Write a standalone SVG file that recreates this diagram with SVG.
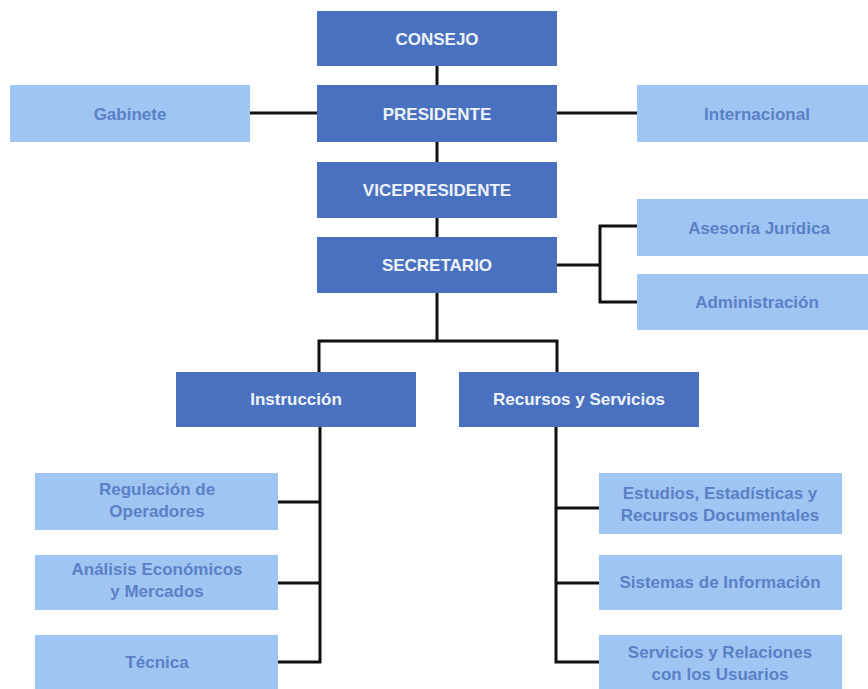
<svg xmlns="http://www.w3.org/2000/svg" width="868" height="689" viewBox="0 0 868 689">
<style>
.dark{fill:#4a71bf}
.light{fill:#9fc6f3}
.tw{font-family:"Liberation Sans",Arial,sans-serif;font-weight:bold;font-size:17px;fill:#eef3fb;text-anchor:middle}
.tb{font-family:"Liberation Sans",Arial,sans-serif;font-weight:bold;font-size:17px;fill:#5a80c6;text-anchor:middle}
.ln{stroke:#111;stroke-width:3;fill:none}
</style>
<rect width="868" height="689" fill="#ffffff"/>
<g id="connectors">
<path class="ln" d="M437 66V85M437 142V162M437 218V237M437 293V341"/>
<path class="ln" d="M250 113H317M557 113H637"/>
<path class="ln" d="M557 265H600M637 226H600V302H637"/>
<path class="ln" d="M319 372V341H557V372"/>
<path class="ln" d="M320 427V662H278M278 502H320M278 583H320"/>
<path class="ln" d="M556 427V662H599M556 508H599M556 583H599"/>
</g>
<g id="consejo"><rect class="dark" x="317" y="11" width="240" height="55"/><text class="tw" x="437" y="45">CONSEJO</text></g>
<g id="presidente"><rect class="dark" x="317" y="85" width="240" height="57"/><text class="tw" x="437" y="120">PRESIDENTE</text></g>
<g id="gabinete"><rect class="light" x="10" y="85" width="240" height="57"/><text class="tb" x="130" y="120">Gabinete</text></g>
<g id="internacional"><rect class="light" x="637" y="85" width="240" height="57"/><text class="tb" x="757" y="120">Internacional</text></g>
<g id="vicepresidente"><rect class="dark" x="317" y="162" width="240" height="56"/><text class="tw" x="437" y="196">VICEPRESIDENTE</text></g>
<g id="secretario"><rect class="dark" x="317" y="237" width="240" height="56"/><text class="tw" x="437" y="271">SECRETARIO</text></g>
<g id="asesoria"><rect class="light" x="637" y="199" width="240" height="57"/><text class="tb" x="759" y="234">Asesoría Jurídica</text></g>
<g id="administracion"><rect class="light" x="637" y="274" width="240" height="56"/><text class="tb" x="757" y="308">Administración</text></g>
<g id="instruccion"><rect class="dark" x="176" y="372" width="240" height="55"/><text class="tw" x="296" y="405">Instrucción</text></g>
<g id="recursos"><rect class="dark" x="459" y="372" width="240" height="55"/><text class="tw" x="579" y="405">Recursos y Servicios</text></g>
<g id="regulacion"><rect class="light" x="35" y="473" width="243" height="57"/><text class="tb" x="157" y="495">Regulación de</text><text class="tb" x="157" y="517">Operadores</text></g>
<g id="analisis"><rect class="light" x="35" y="555" width="243" height="55"/><text class="tb" x="157" y="575">Análisis Económicos</text><text class="tb" x="157" y="597">y Mercados</text></g>
<g id="tecnica"><rect class="light" x="35" y="635" width="243" height="60"/><text class="tb" x="157" y="668">Técnica</text></g>
<g id="estudios"><rect class="light" x="599" y="473" width="243" height="61"/><text class="tb" x="720" y="499">Estudios, Estadísticas y</text><text class="tb" x="720" y="521">Recursos Documentales</text></g>
<g id="sistemas"><rect class="light" x="599" y="555" width="243" height="55"/><text class="tb" x="720" y="588">Sistemas de Información</text></g>
<g id="servicios"><rect class="light" x="599" y="635" width="243" height="60"/><text class="tb" x="720" y="658">Servicios y Relaciones</text><text class="tb" x="720" y="680">con los Usuarios</text></g>
</svg>
